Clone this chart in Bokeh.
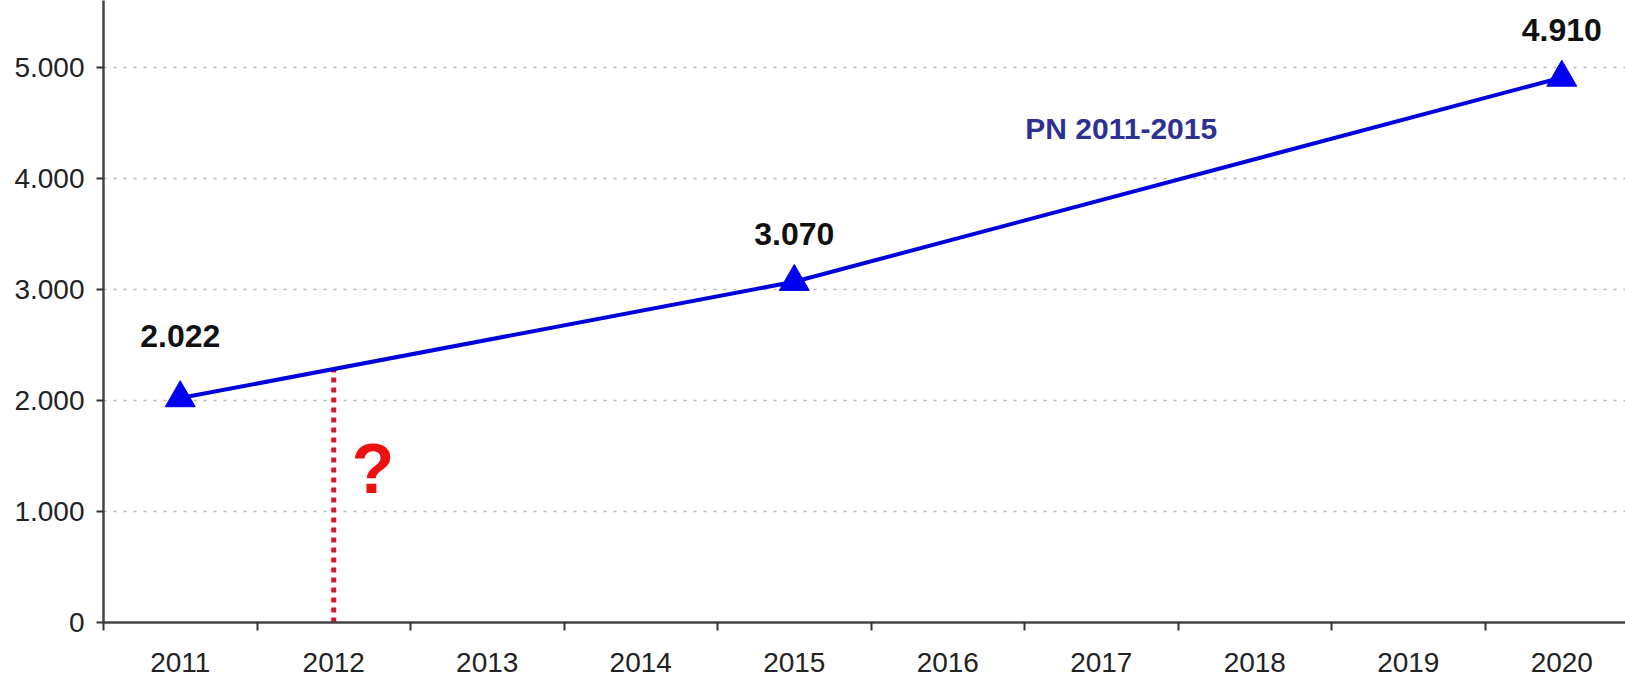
from bokeh.plotting import figure
from bokeh.models import FixedTicker, Range1d, Label, ColumnDataSource, CustomJSTickFormatter
from bokeh.embed import file_html
from bokeh.resources import INLINE
from bokeh.core.properties import value

# ---- data ----
years = [2011, 2015, 2020]
values = [2022, 3070, 4910]
value_labels = ["2.022", "3.070", "4.910"]
year_ticks = [2011, 2012, 2013, 2014, 2015, 2016, 2017, 2018, 2019, 2020]
y_ticks = [0, 1000, 2000, 3000, 4000, 5000]
marker_year = 2012
series_label = "PN 2011-2015"
question_text = "?"

# label placement (style)
label_y_offsets = [-62, -48, -48]

W, H = 1625, 679
p = figure(width=W, height=H, output_backend="svg", toolbar_location=None,
           x_range=Range1d(2010.5, 2020.415), y_range=Range1d(0, 5604),
           min_border_left=103, min_border_right=0, min_border_top=0,
           min_border_bottom=57)
p.outline_line_color = None
p.background_fill_color = "white"
p.border_fill_color = "white"

# grid
p.xgrid.grid_line_color = None
p.ygrid.ticker = FixedTicker(ticks=[1000, 2000, 3000, 4000, 5000])
p.ygrid.grid_line_color = "#b8b8b8"
p.ygrid.grid_line_dash = "3 7"
p.ygrid.grid_line_width = 1.5

# axes
font = "Liberation Sans"
p.xaxis.ticker = FixedTicker(ticks=year_ticks, minor_ticks=[y - 0.5 for y in year_ticks])
p.xaxis.major_tick_out = 0
p.xaxis.major_tick_in = 0
p.xaxis.minor_tick_out = 8
p.xaxis.minor_tick_in = 0
p.xaxis.minor_tick_line_color = "#333333"
p.xaxis.minor_tick_line_width = 2
p.xaxis.axis_line_color = "#444444"
p.xaxis.axis_line_width = 2.5
p.xaxis.major_label_standoff = 22
p.xaxis.major_label_text_font = font
p.xaxis.major_label_text_font_size = "28px"
p.xaxis.major_label_text_color = "#222222"
p.xaxis.formatter = CustomJSTickFormatter(code="return String(Math.round(tick));")

p.yaxis.ticker = FixedTicker(ticks=y_ticks)
p.yaxis.minor_tick_line_color = None
p.yaxis.major_tick_out = 7
p.yaxis.major_tick_in = 0
p.yaxis.major_tick_line_color = "#333333"
p.yaxis.major_tick_line_width = 2
p.yaxis.axis_line_color = "#444444"
p.yaxis.axis_line_width = 2.5
p.yaxis.major_label_standoff = 12
p.yaxis.major_label_text_font = font
p.yaxis.major_label_text_font_size = "28px"
p.yaxis.major_label_text_color = "#222222"
p.yaxis.formatter = CustomJSTickFormatter(
    code="return tick == 0 ? '0' : (tick/1000).toFixed(3);")

# red dotted marker at 2012 (up to the line value there)
frac = (marker_year - years[0]) / (years[1] - years[0])
marker_val = values[0] + frac * (values[1] - values[0])
p.segment(x0=[marker_year], y0=[0], x1=[marker_year], y1=[marker_val],
          line_color="#d8142e", line_width=5, line_dash="5 5", line_cap="butt")

# main line + markers
src = ColumnDataSource(dict(x=years, y=values, t=value_labels, yo=label_y_offsets))
p.line("x", "y", source=src, line_color="#0000dd", line_width=4)
p.scatter("x", "y", source=src, marker="triangle", size=30,
          fill_color="#0000f0", line_color="#0000f0")
p.text("x", "y", text="t", source=src, y_offset="yo",
       text_align="center", text_baseline="alphabetic",
       text_font=value(font), text_font_style="bold",
       text_font_size="32px", text_color="#111111")

p.add_layout(Label(x=2017.13, y=4450, text=series_label, text_align="center",
                   text_baseline="alphabetic", text_font=font,
                   text_font_style="bold", text_font_size="30px",
                   text_color="#2e3192"))
p.add_layout(Label(x=2012.255, y=1387, text=question_text, text_align="center",
                   text_baseline="alphabetic", text_font=font,
                   text_font_style="bold", text_font_size="70px",
                   text_color="#ee1111"))

open("out.html", "w").write(file_html(p, INLINE))
